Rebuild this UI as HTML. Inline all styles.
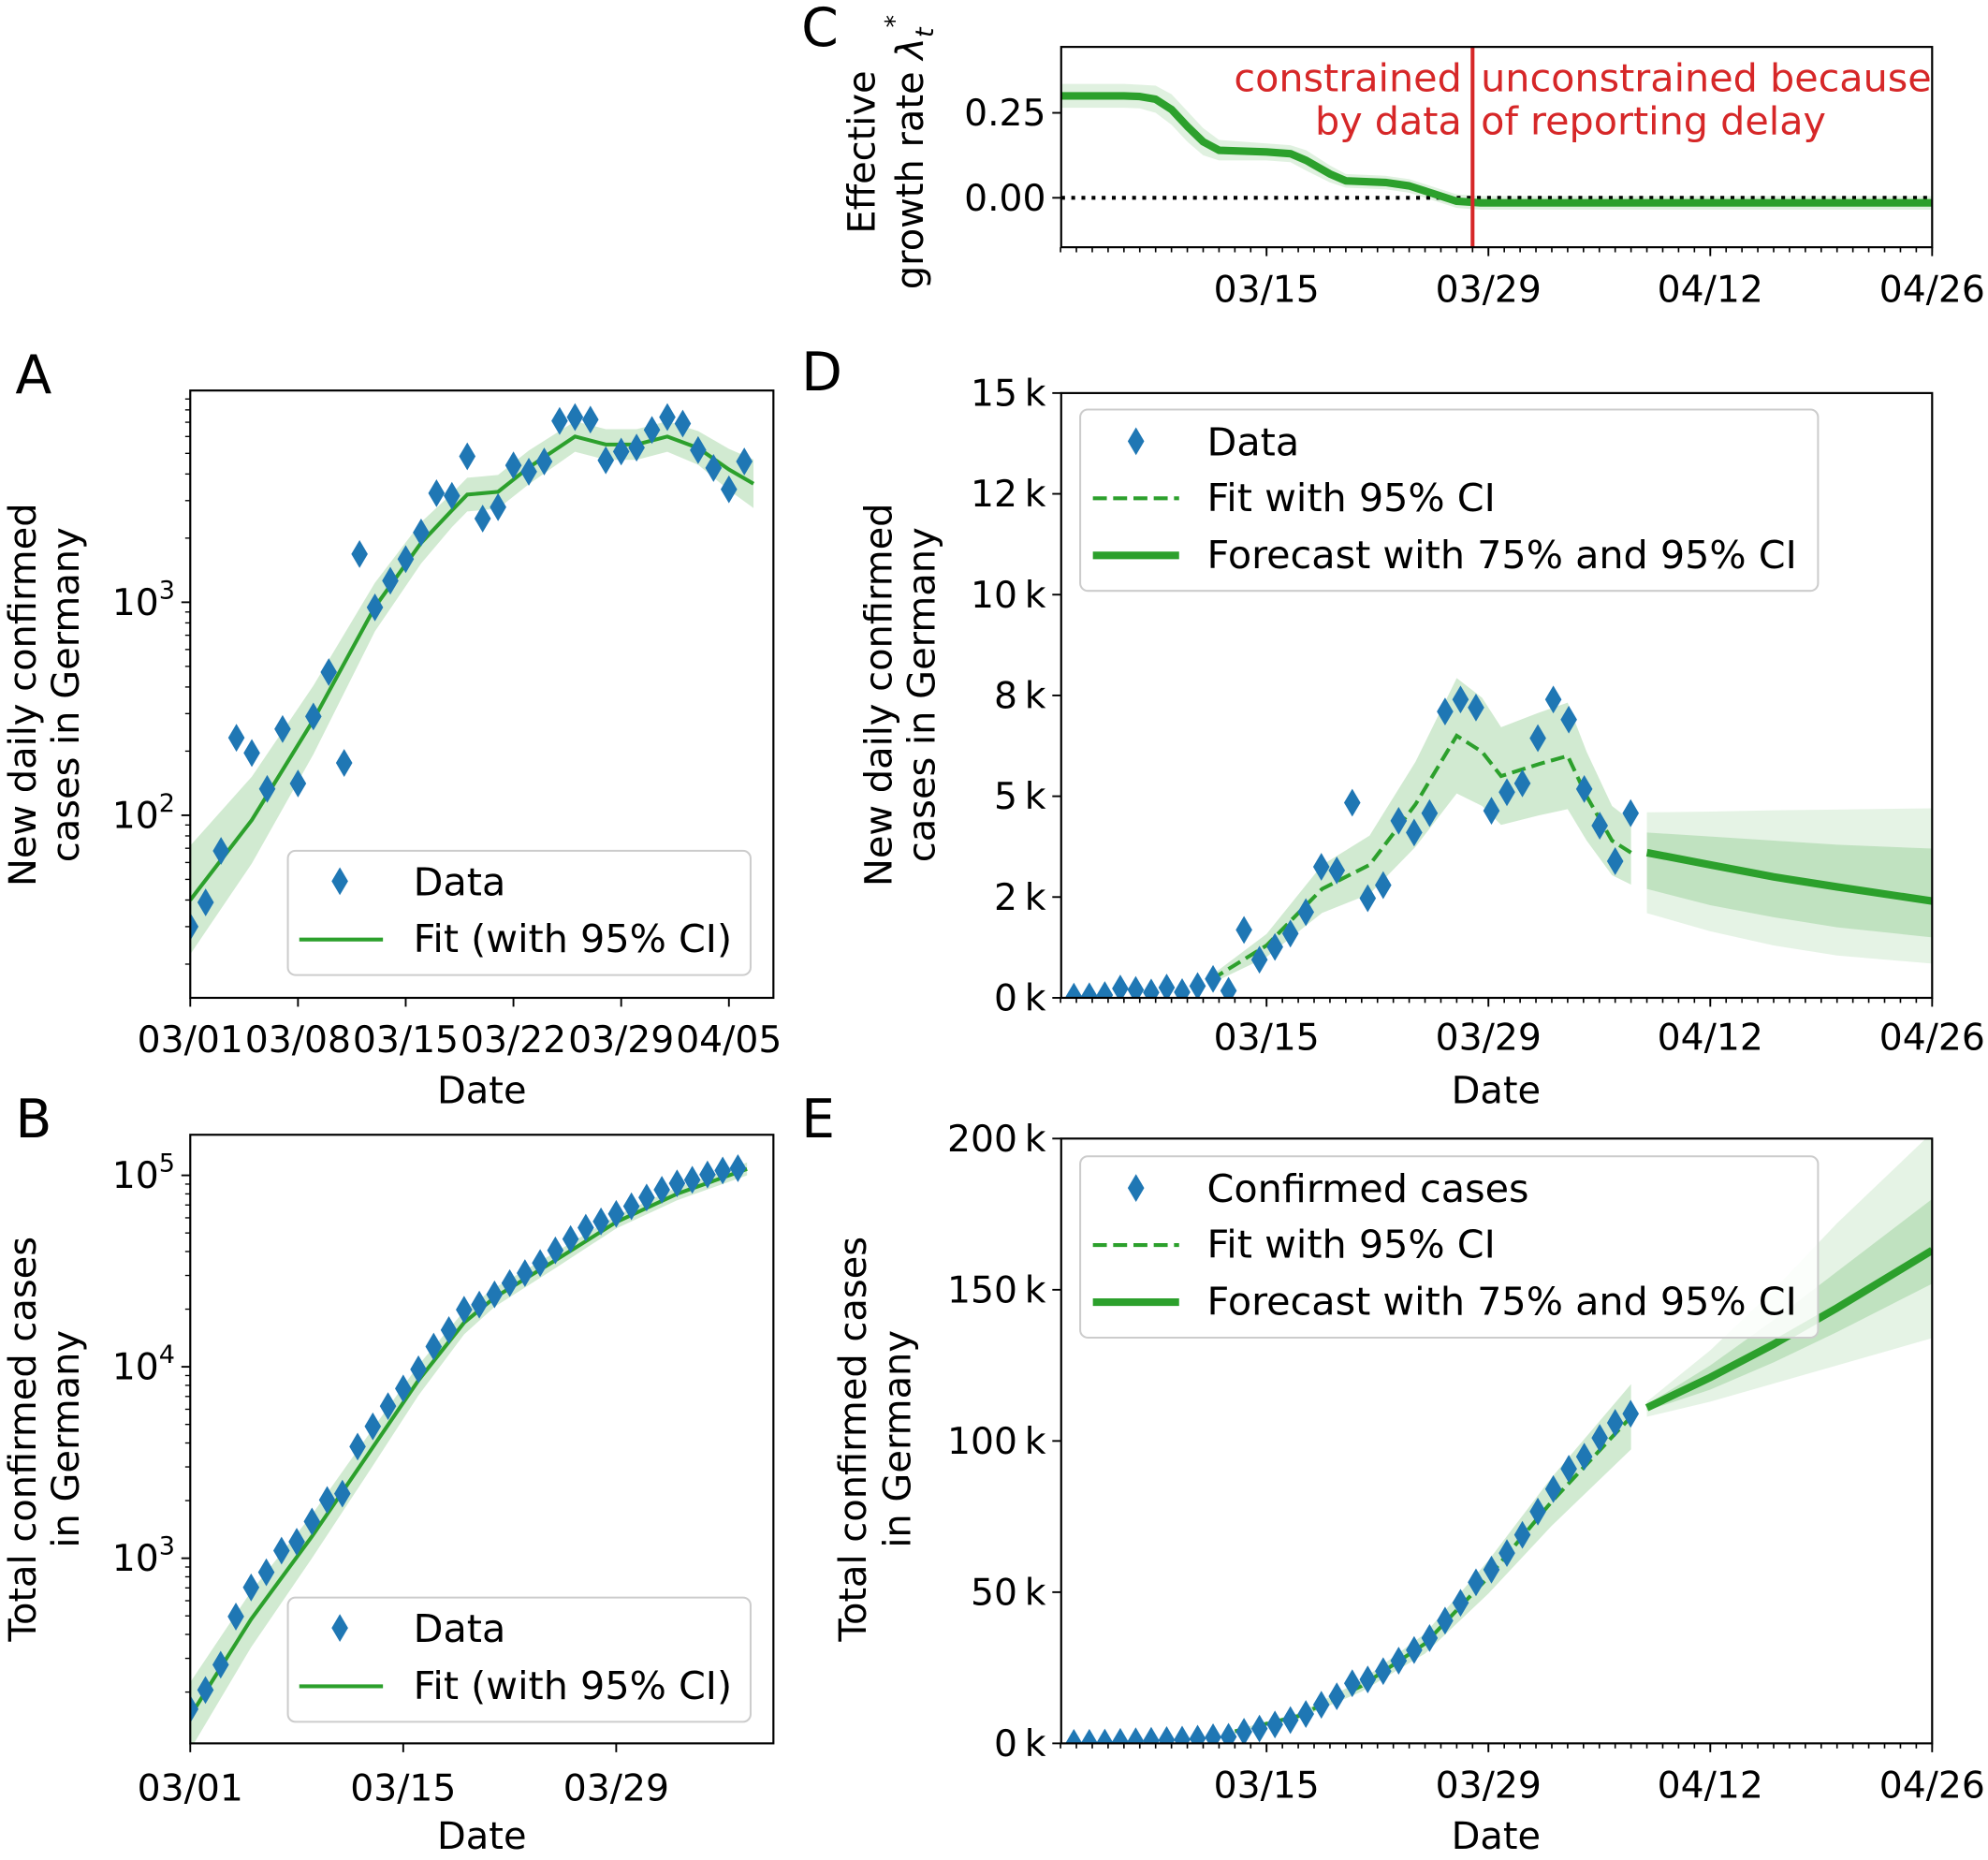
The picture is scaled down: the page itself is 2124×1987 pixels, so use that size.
<!DOCTYPE html>
<html><head><meta charset="utf-8"><title>COVID-19 Germany</title>
<style>html,body{margin:0;padding:0;background:#fff}svg{display:block;font-family:"DejaVu Sans","Liberation Sans",sans-serif}</style>
</head><body>
<svg id="fig" width="2124" height="1987" viewBox="0 0 1568 1467" xmlns="http://www.w3.org/2000/svg"></svg>
<script>
// ---- data (day index from 03/01 = day 0) ----
const dailyCases = [30,39,68,231,196,133,254,141,291,470,176,1684,946,1262,1594,2125,3250,3160,4840,2470,2795,4390,4100,4580,7100,7400,7200,4640,5100,5320,6440,7400,6900,5180,4270,3390,4580];
const totalCases = [163,205,278,496,704,845,1096,1219,1556,2016,2175,3830,4885,6230,7700,9700,12760,15560,19870,21120,23890,27340,30860,34840,40570,46480,53260,57440,62930,68950,76640,84100,90800,94800,101000,106000,109000];
const fitADays = [0,4,8,12,15,17,18,20,22,25,27,29,31,33,35,36.6];
const fitAVals = [40,95,280,950,1900,2700,3200,3300,4300,6000,5500,5500,6000,5300,4200,3600];
const fitABand = [1.8,1.6,1.45,1.3,1.25,1.2,1.2,1.2,1.2,1.18,1.18,1.18,1.18,1.2,1.25,1.3];
const fitBDays = [0,4,8,12,15,18,20,24,28,32,36.6];
const fitBVals = [150,480,1300,3800,8500,17000,23000,36000,57000,80000,108000];
const fitBBand = [1.5,1.4,1.3,1.25,1.2,1.15,1.12,1.1,1.08,1.08,1.08];
const rateDays = [1,5,6,7,8,9,10,11,14,15.5,16.5,18,19,21.5,23,24,26,27.5,56];
const rateVals = [0.30,0.30,0.298,0.29,0.26,0.21,0.165,0.14,0.135,0.13,0.11,0.07,0.05,0.045,0.035,0.02,-0.01,-0.015,-0.015];
const rateBand = [0.035,0.035,0.035,0.04,0.045,0.045,0.04,0.03,0.025,0.025,0.03,0.025,0.02,0.02,0.02,0.02,0.02,0.02,0.02];
const changeDay = 27;
const dataStartDay = 1.84;
const dataStepDays = 0.976;
const fitDDays = [10.5,14,17.5,20.5,23.4,26.0,27.6,28.8,31.2,33.0,34.2,35.8,37];
const fitDVals = [450,1300,2700,3300,4800,6500,6100,5500,5800,6000,5000,3900,3600];
const fcDays = [38,42,46,50,56];
const fcDMed = [3600,3300,3000,2750,2400];
const fcDLo95 = [2100,1650,1300,1050,850];
const fcDHi95 = [4600,4620,4650,4670,4700];
const fcDLo75 = [2700,2300,2000,1750,1500];
const fcDHi75 = [4100,4000,3900,3800,3700];
const fitEDays = [12,16,20,24,28,32,37];
const fitEVals = [4000,9000,19000,33000,55000,80000,108000];
const fcEMed = [111000,121000,132000,144000,163000];
const fcELo95 = [108000,113000,119000,125000,134000];
const fcEHi95 = [113000,130000,150000,172000,202000];
const fcELo75 = [110000,117000,126000,136000,152000];
const fcEHi75 = [112000,125000,140000,156000,180000];
const dayLabelsA = ["03/01","03/08","03/15","03/22","03/29","04/05"];
const dayTicksA = [0,7,14,21,28,35];
const dayLabelsB = ["03/01","03/15","03/29"];
const dayTicksB = [0,14,28];
const dayLabelsT = ["03/15","03/29","04/12","04/26"];
const dayTicksT = [14,28,42,56];
const dTicks = [0,2500,5000,7500,10000,12500,15000];
const dTickLabels = ["0\u2009k","2\u2009k","5\u2009k","8\u2009k","10\u2009k","12\u2009k","15\u2009k"];
const eTicks = [0,50000,100000,150000,200000];
const eTickLabels = ["0\u2009k","50\u2009k","100\u2009k","150\u2009k","200\u2009k"];
const cTicks = [0,0.25];
const cTickLabels = ["0.00","0.25"];

// ---- scales ----
const xA=d=>150+12.14*d, yA=v=>475-168*(Math.log10(v)-3);
const xB=d=>150+12*d, yB=v=>1229-151*(Math.log10(v)-3);
const xT=d=>999+12.5*(d-14);
const yC=v=>156-268*v, yD=v=>787-31.8*v/1000, yE=v=>1375-2.385*v/1000;
const dDay=i=>dataStartDay+dataStepDays*i;
const G='#2ca02c', BL='#1f77b4', BAND='rgba(44,160,44,0.22)';
const FT=29, FL=29.5, FG=30.5;
const svg=document.getElementById('fig');
const NS='http://www.w3.org/2000/svg';
function mk(tag,attrs,parent){const e=document.createElementNS(NS,tag);for(const k in attrs)e.setAttribute(k,attrs[k]);(parent||svg).appendChild(e);return e;}
function txt(s,x,y,size,anchor,parent,extra){const t=mk('text',Object.assign({x:x,y:y,'font-size':size,'text-anchor':anchor||'start',fill:'#000'},extra||{}),parent);t.textContent=s;return t;}
function line(days,vals,xf,yf){return days.map((d,i)=>(i?'L':'M')+xf(d).toFixed(1)+','+yf(vals[i]).toFixed(1)).join('');}
function band(days,lo,hi,xf,yf){let p=days.map((d,i)=>(i?'L':'M')+xf(d).toFixed(1)+','+yf(hi[i]).toFixed(1)).join('');for(let i=days.length-1;i>=0;i--)p+='L'+xf(days[i]).toFixed(1)+','+yf(lo[i]).toFixed(1);return p+'Z';}
function diamond(x,y,parent){return mk('path',{d:`M${x},${y-11}L${x+6.5},${y}L${x},${y+11}L${x-6.5},${y}Z`,fill:BL},parent);}
let clipN=0;
function axes(name,x0,y0,x1,y1){const g=mk('g',{});
 const id='c'+(clipN++);const cp=mk('clipPath',{id:id},g);mk('rect',{x:x0,y:y0,width:x1-x0,height:y1-y0},cp);
 const inner=mk('g',{'clip-path':`url(#${id})`},g);return {g,inner,x0,y0,x1,y1};}
function frame(a){const r=mk('rect',{x:a.x0,y:a.y0,width:a.x1-a.x0,height:a.y1-a.y0,fill:'none',stroke:'#000','stroke-width':1.6},a.g);}
function xTicks(a,ticks,labels,xf,ly,minorFrom,minorTo){
 if(minorFrom!==undefined){for(let d=minorFrom;d<=minorTo;d++){const x=xf(d);if(x<a.x0-0.5||x>a.x1+0.5)continue;mk('line',{x1:x,x2:x,y1:a.y1,y2:a.y1+4,stroke:'#000','stroke-width':1.2},a.g);}}
 ticks.forEach((d,i)=>{mk('line',{x1:xf(d),x2:xf(d),y1:a.y1,y2:a.y1+7,stroke:'#000','stroke-width':1.4},a.g);const t=txt(labels[i],xf(d),ly,FT,'middle',a.g);});}
function yTicks(a,ticks,labels,yf){ticks.forEach((v,i)=>{mk('line',{x1:a.x0-7,x2:a.x0,y1:yf(v),y2:yf(v),stroke:'#000','stroke-width':1.4},a.g);const t=txt(labels[i],a.x0-12,yf(v)+10,FT,'end',a.g);});}
function logTicks(a,yf,lo,hi,majors){for(let e=lo;e<=hi;e++){for(let m=1;m<10;m++){const v=m*Math.pow(10,e);const y=yf(v);if(y<a.y0||y>a.y1)continue;const maj=m===1;mk('line',{x1:a.x0-(maj?7:4),x2:a.x0,y1:y,y2:y,stroke:'#000','stroke-width':maj?1.4:1},a.g);}}
 majors.forEach(e=>{const y=yf(Math.pow(10,e));const t=mk('text',{x:a.x0-12,y:y+10,'font-size':FT,'text-anchor':'end'},a.g);t.innerHTML=`10<tspan font-size="20" dy="-13">${e}</tspan>`;});}
function ylabel(lines,x,yc){lines.forEach((s,i)=>{const t=txt(s,x[i],yc,FL,'middle',null,{transform:`rotate(-90 ${x[i]} ${yc})`});});}
function xlabel(x,y){const t=txt('Date',x,y,FL,'middle');}
function letter(s,x,y){const t=txt(s,x,y,42,'start');}
function legendBox(x,y,w,h){const r=mk('rect',{x:x,y:y,width:w,height:h,rx:6,fill:'rgba(255,255,255,0.85)',stroke:'#ccc','stroke-width':1.5});}

// ---- Panel A ----
{const a=axes('panel-a',150,308,610,787);
 const b=mk('path',{d:band(fitADays,fitAVals.map((v,i)=>v/fitABand[i]),fitAVals.map((v,i)=>v*fitABand[i]),xA,yA),fill:BAND},a.inner);
 const l=mk('path',{d:line(fitADays,fitAVals,xA,yA),fill:'none',stroke:G,'stroke-width':3},a.inner);
 dailyCases.forEach((v,i)=>{const m=diamond(xA(i),yA(v),a.inner);});
 frame(a);xTicks(a,dayTicksA,dayLabelsA,xA,830);logTicks(a,yA,1,3,[2,3]);}
ylabel(['New daily confirmed','cases in Germany'],[28,62],548);xlabel(380,870);letter('A',12,310);
legendBox(227,671,365,98);diamond(268,695);txt('Data',326,706,FG);mk('line',{x1:236,x2:302,y1:741,y2:741,stroke:G,'stroke-width':3});txt('Fit (with 95% CI)',326,751,FG);

// ---- Panel B ----
{const a=axes('panel-b',150,895,610,1375);
 const b=mk('path',{d:band(fitBDays,fitBVals.map((v,i)=>v/fitBBand[i]),fitBVals.map((v,i)=>v*fitBBand[i]),xB,yB),fill:BAND},a.inner);
 const l=mk('path',{d:line(fitBDays,fitBVals,xB,yB),fill:'none',stroke:G,'stroke-width':3},a.inner);
 totalCases.forEach((v,i)=>{const m=diamond(xB(i),yB(v),a.inner);});
 frame(a);xTicks(a,dayTicksB,dayLabelsB,xB,1420);logTicks(a,yB,2,5,[3,4,5]);}
ylabel(['Total confirmed cases','in Germany'],[28,62],1135);xlabel(380,1458);letter('B',12,897);
legendBox(227,1260,365,98);diamond(268,1284);txt('Data',326,1295,FG);mk('line',{x1:236,x2:302,y1:1330,y2:1330,stroke:G,'stroke-width':3});txt('Fit (with 95% CI)',326,1340,FG);

// ---- Panel C ----
{const a=axes('panel-c',837,37,1524,195);
 const b=mk('path',{d:band(rateDays,rateVals.map((v,i)=>v-rateBand[i]),rateVals.map((v,i)=>v+rateBand[i]),xT,yC),fill:'rgba(44,160,44,0.15)'},a.inner);
 const z=mk('line',{x1:837,x2:1524,y1:yC(0),y2:yC(0),stroke:'#000','stroke-width':3,'stroke-dasharray':'3,5'},a.inner);
 const l=mk('path',{d:line(rateDays,rateVals,xT,yC),fill:'none',stroke:G,'stroke-width':6,'stroke-linejoin':'round'},a.inner);
 const r=mk('line',{x1:xT(changeDay),x2:xT(changeDay),y1:37,y2:195,stroke:'#d62728','stroke-width':3},a.inner);
 frame(a);xTicks(a,dayTicksT,dayLabelsT,xT,238,1,56);yTicks(a,cTicks,cTickLabels,yC);
 const red={fill:'#d62728'};txt('constrained',1153,72,FG,'end',a.g,red);txt('by data',1153,106,FG,'end',a.g,red);txt('unconstrained because',1168,72,FG,'start',a.g,red);txt('of reporting delay',1168,106,FG,'start',a.g,red);}
{const t=mk('text',{x:690,y:120,'font-size':FL,'text-anchor':'middle',transform:'rotate(-90 690 120)'});t.textContent='Effective';
 const t2=mk('text',{x:728,y:120,'font-size':FL,'text-anchor':'middle',transform:'rotate(-90 728 120)'});t2.innerHTML='growth rate <tspan font-style="italic">λ</tspan><tspan font-size="20" font-style="italic" dy="8">t</tspan><tspan font-size="20" dy="-24">*</tspan>';}
letter('C',632,36);

// ---- Panel D ----
{const a=axes('panel-d',837,310,1524,787);
 const b=mk('path',{d:band(fitDDays,fitDVals.map(v=>v*0.78),fitDVals.map(v=>v*1.22),xT,yD),fill:BAND},a.inner);
 const b95=mk('path',{d:band(fcDays,fcDLo95,fcDHi95,xT,yD),fill:'rgba(44,160,44,0.12)'},a.inner);
 const b75=mk('path',{d:band(fcDays,fcDLo75,fcDHi75,xT,yD),fill:'rgba(44,160,44,0.2)'},a.inner);
 const f=mk('path',{d:line(fitDDays,fitDVals,xT,yD),fill:'none',stroke:G,'stroke-width':3,'stroke-dasharray':'11,5'},a.inner);
 const fc=mk('path',{d:line(fcDays,fcDMed,xT,yD),fill:'none',stroke:G,'stroke-width':6},a.inner);
 dailyCases.forEach((v,i)=>{const m=diamond(xT(dDay(i)),yD(v),a.inner);});
 frame(a);xTicks(a,dayTicksT,dayLabelsT,xT,828,1,56);yTicks(a,dTicks,dTickLabels,yD);}
ylabel(['New daily confirmed','cases in Germany'],[703,737],548);xlabel(1180,870);letter('D',632,308);
legendBox(852,323,582,143);diamond(896,348);txt('Data',952,359,FG);mk('line',{x1:862,x2:930,y1:393,y2:393,stroke:G,'stroke-width':3,'stroke-dasharray':'11,5'});txt('Fit with 95% CI',952,403,FG);mk('line',{x1:862,x2:930,y1:438,y2:438,stroke:G,'stroke-width':6});txt('Forecast with 75% and 95% CI',952,448,FG);

// ---- Panel E ----
{const a=axes('panel-e',837,898,1524,1375);
 const b=mk('path',{d:band(fitEDays,fitEVals.map(v=>v*0.9),fitEVals.map(v=>v*1.1),xT,yE),fill:BAND},a.inner);
 const b95=mk('path',{d:band(fcDays,fcELo95,fcEHi95,xT,yE),fill:'rgba(44,160,44,0.12)'},a.inner);
 const b75=mk('path',{d:band(fcDays,fcELo75,fcEHi75,xT,yE),fill:'rgba(44,160,44,0.2)'},a.inner);
 const f=mk('path',{d:line(fitEDays,fitEVals,xT,yE),fill:'none',stroke:G,'stroke-width':3,'stroke-dasharray':'11,5'},a.inner);
 const fc=mk('path',{d:line(fcDays,fcEMed,xT,yE),fill:'none',stroke:G,'stroke-width':6},a.inner);
 totalCases.forEach((v,i)=>{const m=diamond(xT(dDay(i)),yE(v),a.inner);});
 frame(a);xTicks(a,dayTicksT,dayLabelsT,xT,1418,1,56);yTicks(a,eTicks,eTickLabels,yE);}
ylabel(['Total confirmed cases','in Germany'],[683,718],1135);xlabel(1180,1458);letter('E',632,897);
legendBox(852,912,582,143);diamond(896,937);txt('Confirmed cases',952,948,FG);mk('line',{x1:862,x2:930,y1:982,y2:982,stroke:G,'stroke-width':3,'stroke-dasharray':'11,5'});txt('Fit with 95% CI',952,992,FG);mk('line',{x1:862,x2:930,y1:1027,y2:1027,stroke:G,'stroke-width':6});txt('Forecast with 75% and 95% CI',952,1037,FG);
</script>
</body></html>
